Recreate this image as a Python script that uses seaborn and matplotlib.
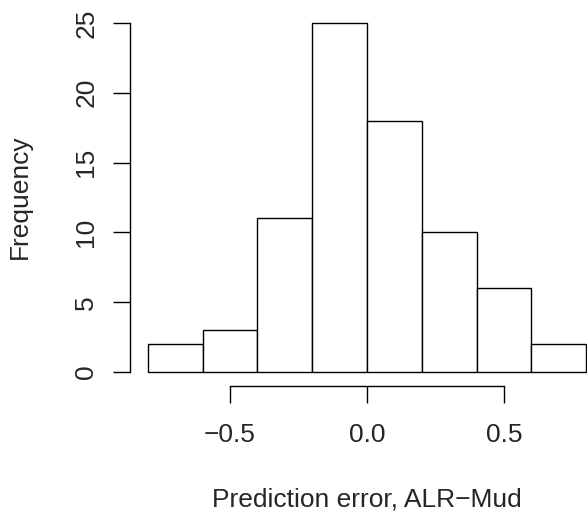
import numpy as np
import matplotlib
matplotlib.use("Agg")
import matplotlib.pyplot as plt
import seaborn as sns

# histogram of prediction errors (bin edges and counts)
bin_edges = [-0.8, -0.6, -0.4, -0.2, 0.0, 0.2, 0.4, 0.6, 0.8]
counts = [2, 3, 11, 25, 18, 10, 6, 2]
x_ticks = [-0.5, 0.0, 0.5]
x_tick_labels = ["\u22120.5", "0.0", "0.5"]
y_ticks = [0, 5, 10, 15, 20, 25]

centers = [(a + b) / 2 for a, b in zip(bin_edges[:-1], bin_edges[1:])]

sns.set_style("white")
plt.rcParams["font.family"] = ["Liberation Sans", "DejaVu Sans"]

fig = plt.figure(figsize=(5.87, 5.14), dpi=100)
# plot region like R: extends past the right edge of the device
ax = fig.add_axes([130.3 / 587, 128 / 514, 473.4 / 587, 377 / 514])

sns.histplot(x=centers, weights=counts, bins=bin_edges, ax=ax,
             color="white", edgecolor="black", linewidth=1.0, alpha=1)

ax.set_xlim(-0.864, 0.864)
ax.set_ylim(-1, 26)

for s in ["top", "right"]:
    ax.spines[s].set_visible(False)
ax.spines["left"].set_bounds(0, 25)
ax.spines["bottom"].set_bounds(-0.5, 0.5)
for s in ["left", "bottom"]:
    ax.spines[s].set_linewidth(1.0)
    ax.spines[s].set_color("black")

ax.set_xticks(x_ticks)
ax.set_xticklabels(x_tick_labels)
ax.set_yticks(y_ticks)
ax.set_yticklabels([str(v) for v in y_ticks], rotation=90, va="center")
ax.tick_params(axis="both", direction="out", length=12, width=1.0,
               color="black", labelsize=19, left=True, bottom=True)
ax.tick_params(axis="x", pad=15)
ax.tick_params(axis="y", pad=11)

ax.set_xlabel("")
ax.set_ylabel("")
fig.text(366.5 / 587, 1 - 507 / 514, "Prediction error, ALR\u2212Mud",
         ha="center", va="baseline", fontsize=19)
fig.text(27 / 587, 1 - 197 / 514, "Frequency", rotation=90,
         rotation_mode="anchor", ha="center", va="baseline", fontsize=19)

fig.savefig("out.png", dpi=100)
